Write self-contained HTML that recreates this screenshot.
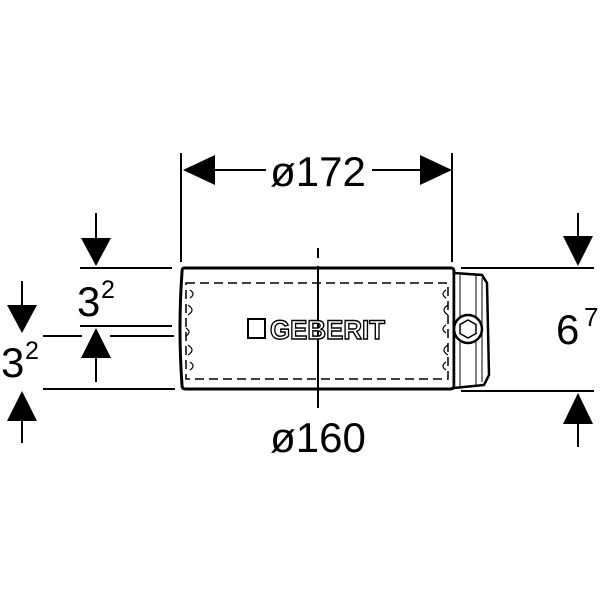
<!DOCTYPE html>
<html><head><style>body{margin:0;background:#fff}svg{display:block}</style></head><body>
<svg width="600" height="600" xmlns="http://www.w3.org/2000/svg" font-family="Liberation Sans, sans-serif">
<rect width="600" height="600" fill="#fff"/>
<g stroke="#000" stroke-width="2" fill="none">
<line x1="181" y1="153" x2="181" y2="262"/>
<line x1="452" y1="153" x2="452" y2="262"/>
<line x1="215" y1="170" x2="266" y2="170"/>
<line x1="372" y1="170" x2="420" y2="170"/>
<line x1="80" y1="268" x2="172" y2="268"/>
<line x1="80" y1="326" x2="172" y2="326"/>
<line x1="43" y1="336" x2="82" y2="336"/>
<line x1="110" y1="336" x2="174" y2="336"/>
<line x1="43" y1="389" x2="175" y2="389"/>
<line x1="96" y1="213" x2="96" y2="240"/>
<line x1="96" y1="356" x2="96" y2="382"/>
<line x1="22" y1="281" x2="22" y2="305"/>
<line x1="22" y1="419" x2="22" y2="443"/>
<line x1="461" y1="268" x2="594" y2="268"/>
<line x1="461" y1="391" x2="594" y2="391"/>
<line x1="578" y1="213" x2="578" y2="236"/>
<line x1="578" y1="423" x2="578" y2="447"/>
</g>
<g fill="#000">
<polygon points="183,170 215,155 215,185"/>
<polygon points="452,170 420,155 420,185"/>
<polygon points="96,266 81,238 111,238"/>
<polygon points="96,328 81,358 111,358"/>
<polygon points="22,333 7,305 37,305"/>
<polygon points="22,391 7,421 37,421"/>
<polygon points="578,266 563,236 593,236"/>
<polygon points="578,393 563,424 593,424"/>
</g>
<path d="M184,268 L451,268 Q454,268 454,272 L454,386 Q454,389 450,389 L185,389 Q182,389 182,385 Q178,328 182,272 Q182,268 184,268 Z" fill="#fff" stroke="#000" stroke-width="3"/>
<rect x="186" y="283" width="262" height="96" fill="none" stroke="#000" stroke-width="1.5" stroke-dasharray="9,5"/>
<g stroke="#000" stroke-width="1.2" fill="none">
<path d="M190,290 q6,4 0,8 M188,305 q8,5 0,10 M186,328 q6,4 0,8 M188,345 q8,5 0,10 M190,362 q6,4 0,8"/>
<path d="M446,290 q-6,4 0,8 M448,305 q-8,5 0,10 M446,325 q-6,4 0,8 M448,345 q-8,5 0,10 M446,362 q-6,4 0,8"/>
</g>
<g stroke="#000" stroke-width="2" fill="none">
<line x1="318" y1="248" x2="318" y2="258"/>
<line x1="318" y1="266" x2="318" y2="408"/>
</g>
<path d="M454,273 L482,275 L487,283 L489,375 L484,385 L454,388 Z" fill="#fff" stroke="#000" stroke-width="2.5"/>
<g stroke="#000" stroke-width="1" fill="none">
<line x1="460" y1="275" x2="460" y2="386"/>
<line x1="476" y1="275" x2="476" y2="386"/>
<line x1="482" y1="278" x2="482" y2="382"/>
</g>
<circle cx="468" cy="329" r="14" fill="#fff" stroke="#000" stroke-width="2.5"/>
<polygon points="468,320 476,324.5 476,333.5 468,338 460,333.5 460,324.5" fill="none" stroke="#000" stroke-width="1.5"/>
<rect x="248" y="319" width="17" height="19" fill="#fff" stroke="#000" stroke-width="2"/>
<text x="270" y="339" font-size="27" font-weight="bold" fill="#fff" stroke="#000" stroke-width="1.4" textLength="115" lengthAdjust="spacingAndGlyphs">GEBERIT</text>
<text x="318" y="186" font-size="42" text-anchor="middle">ø172</text>
<text x="318" y="452" font-size="42" text-anchor="middle">ø160</text>
<text x="77" y="316" font-size="42">3</text><text x="101" y="298" font-size="25">2</text>
<text x="1" y="377" font-size="42">3</text><text x="25" y="359" font-size="25">2</text>
<text x="556" y="344" font-size="42">6</text><text x="584" y="326" font-size="26">7</text>
</svg>
</body></html>
